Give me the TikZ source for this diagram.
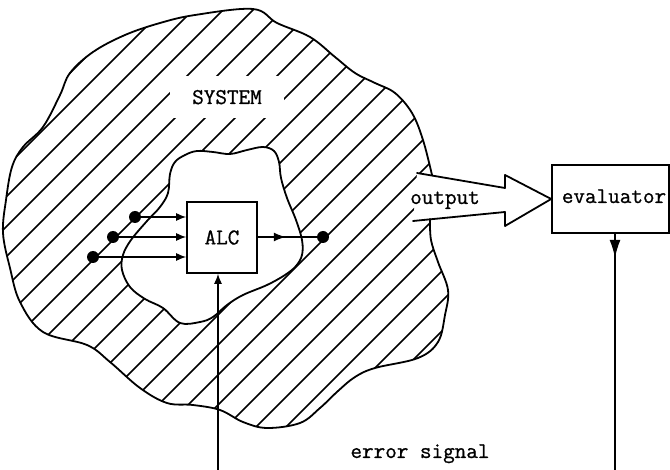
\documentclass[tikz,border=0pt]{standalone}
\usepackage{fontspec}
\newfontfamily\typewriter{Latin Modern Mono}[FakeBold=0.9]
\usetikzlibrary{arrows.meta,decorations.markings,calc}
\tikzset{
  lbl/.style={font=\fontsize{22.5}{24}\selectfont\typewriter, inner sep=0pt},
  blobline/.style={line width=1.8pt, line join=round, line cap=round},
  hatch/.style={line width=1.5pt},
  boxed/.style={draw, line width=1.6pt, lbl},
  dot/.style={circle, fill, inner sep=0pt, minimum size=12pt},
  wire/.style={line width=1.4pt},
  tip/.style={-{Latex[length=10pt,width=8pt]}},
  midtip/.style={postaction={decorate}, decoration={markings,
      mark=at position #1 with {\arrow{Latex[length=12pt,width=9pt]}}}},
  bigtip/.style={postaction={decorate}, decoration={markings,
      mark=at position #1 with {\arrow{Latex[length=18pt,width=11pt]}}}},
  % boundary of the system, open where the output leaves it
  outerline/.style={insert path={plot[smooth,tension=0.6] coordinates {
      (432,175) (423,140) (412,113) (395,93) (375,83) (355,73) (335,57)
      (310,37) (277,23) (253,9) (195,15) (160,23) (125,35) (93,52)
      (70,73) (60,95) (43,127) (23,147) (12,167) (6,200) (3,233)
      (10,268) (20,302) (43,332) (87,345) (110,362) (140,388) (167,403)
      (193,405) (220,410) (243,422) (267,428) (300,423) (320,408)
      (338,391) (355,377) (375,368) (418,358) (438,342) (445,315)
      (448,290) (438,262) (431,240) (430,219)}}},
  % boundary of the region around the ALC
  innerline/.style={insert path={plot[smooth cycle,tension=0.6] coordinates {
      (185,155) (197,151) (213,152) (230,154) (247,150) (263,147)
      (274,151) (279,162) (281,178) (287,198) (296,220) (302,240)
      (302,255) (296,266) (285,275) (267,285) (243,295) (227,305)
      (213,317) (200,322) (180,323) (163,308) (145,299) (130,287)
      (122,270) (123,255) (131,240) (147,221) (160,207) (168,193)
      (170,174) (175,162)}}},
}
\begin{document}
\begin{tikzpicture}[x=1pt,y=-1pt]
\useasboundingbox (0,0) rectangle (670,470);

% hatching of the system
\begin{scope}
  \clip[outerline] -- (413,221) -- (417,173) -- cycle;
  \foreach \k in {0,...,22} {
    \pgfmathsetmacro\c{143+30*\k}
    \draw[hatch] (-20,\c+20) -- (520,\c-520);
  }
\end{scope}

\node[lbl, fill=white, inner xsep=22pt, inner ysep=14pt, anchor=base]
  (system) at (227,104) {SYSTEM};

% inner region, left blank
\fill[white][innerline];
\draw[blobline][innerline];
% outer boundary
\draw[blobline][outerline];

% boxes
\node[boxed, minimum width=70pt, minimum height=71pt] (alc) at (222,237.5) {ALC};
\node[boxed, minimum width=117pt, minimum height=68pt] (ev) at (610.5,199) {};
\node[lbl, anchor=base] (evlabel) at (614,203) {evaluator};

% inputs
\node[dot] (in1) at (135,217) {};
\node[dot] (in2) at (113,237) {};
\node[dot] (in3) at (93,257) {};
\node[dot] (outdot) at (323,237) {};
\draw[wire, tip] (in1) -- (in1 -| alc.west);
\draw[wire, tip] (in2) -- (in2 -| alc.west);
\draw[wire, tip] (in3) -- (in3 -| alc.west);
\draw[wire, midtip=28pt] (alc.east |- outdot) -- (outdot);

% output arrow into the evaluator
\draw[blobline] (417,173) -- (505,188) -- (505,175) -- (ev.west)
  -- (505,226) -- (505,212) -- (413,221);
\node[lbl, anchor=base] (outlabel) at (445,204) {output};

% error signal path
\coordinate (alcfeed) at (218,470);
\coordinate (evfeed) at (615,470);
\draw[wire, tip] (alcfeed) -- (alcfeed |- alc.south);
\draw[wire, bigtip=24pt] (evfeed |- ev.south) -- (evfeed);
\node[lbl, anchor=base] (errlabel) at (420,458) {error signal};
\end{tikzpicture}
\end{document}
